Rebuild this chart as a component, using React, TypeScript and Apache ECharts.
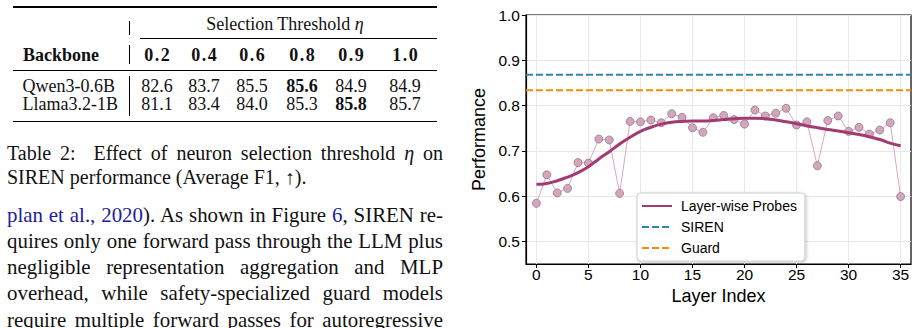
import React, { useEffect, useRef } from "react";
import * as echarts from "echarts";

// ---------- data ----------
const layerIndex = [0, 1, 2, 3, 4, 5, 6, 7, 8, 9, 10, 11, 12, 13, 14, 15, 16, 17, 18, 19, 20, 21, 22, 23, 24, 25, 26, 27, 28, 29, 30, 31, 32, 33, 34, 35];
const probeRaw = [0.584, 0.647, 0.607, 0.617, 0.674, 0.673, 0.726, 0.724, 0.606, 0.765, 0.764, 0.768, 0.762, 0.782, 0.774, 0.751, 0.741, 0.773, 0.778, 0.769, 0.759, 0.790, 0.777, 0.783, 0.794, 0.757, 0.764, 0.667, 0.767, 0.777, 0.743, 0.752, 0.737, 0.746, 0.762, 0.599];
const probeSmooth = [0.626, 0.628, 0.634, 0.642, 0.652, 0.665, 0.682, 0.698, 0.715, 0.730, 0.743, 0.752, 0.759, 0.763, 0.765, 0.766, 0.766, 0.767, 0.769, 0.771, 0.772, 0.772, 0.771, 0.768, 0.764, 0.760, 0.755, 0.751, 0.747, 0.744, 0.740, 0.736, 0.731, 0.725, 0.717, 0.711];
const sirenScore = 0.868;
const guardScore = 0.834;
const xRange = [-1, 36];
const yRange = [0.45, 1.0];
const xTicks = [0, 5, 10, 15, 20, 25, 30, 35];
const yTicks = [0.5, 0.6, 0.7, 0.8, 0.9, 1.0];

const thresholds = ["0.2", "0.4", "0.6", "0.8", "0.9", "1.0"];
const backbones = ["Qwen3-0.6B", "Llama3.2-1B"];
const qwenF1 = [82.6, 83.7, 85.5, 85.6, 84.9, 84.9];
const llamaF1 = [81.1, 83.4, 84.0, 85.3, 85.8, 85.7];

const captionLines = [
  "Table 2:  Effect of neuron selection threshold \u03b7 on",
  "SIREN performance (Average F1, \u2191).",
];
const paragraphLines = [
  "quires only one forward pass through the LLM plus",
  "negligible representation aggregation and MLP",
  "overhead, while safety-specialized guard models",
  "require multiple forward passes for autoregressive",
];

// ---------- styles ----------
const serif = '"Liberation Serif", "Times New Roman", serif';
const sans = '"Liberation Sans", Arial, Helvetica, sans-serif';
const linkBlue = "#1c1c9e";
const colCenters = [157, 204, 252, 302, 351, 405];

function Rule(props: { top: number; left: number; width: number; h: number }) {
  return (
    <div
      style={{
        position: "absolute",
        top: props.top,
        left: props.left,
        width: props.width,
        height: props.h,
        background: "#000",
      }}
    />
  );
}

function VBar(props: { top: number; h: number }) {
  return (
    <div style={{ position: "absolute", left: 128.5, top: props.top, width: 1, height: props.h, background: "#000" }} />
  );
}

function Cell(props: { cx: number; cy: number; bold?: boolean; spacing?: number; children: React.ReactNode }) {
  return (
    <div
      style={{
        position: "absolute",
        left: props.cx - 40,
        width: 80,
        top: props.cy - 11,
        height: 22,
        lineHeight: "22px",
        textAlign: "center",
        fontSize: 18,
        fontWeight: props.bold ? "bold" : "normal",
        letterSpacing: props.spacing ? props.spacing : 0,
        whiteSpace: "nowrap",
      }}
    >
      {props.children}
    </div>
  );
}

function LeftPanel() {
  const rows = [qwenF1, llamaF1];
  const rowY = [85.5, 104];
  return (
    <div style={{ position: "absolute", left: 0, top: 0, width: 460, height: 328, fontFamily: serif, color: "#111" }}>
      <Rule top={6.3} left={13} width={424} h={1.4} />
      <div
        style={{
          position: "absolute",
          left: 185,
          width: 200,
          top: 24 - 11,
          lineHeight: "22px",
          textAlign: "center",
          fontSize: 18,
          whiteSpace: "nowrap",
        }}
      >
        Selection Threshold <i>{"\u03b7"}</i>
      </div>
      <VBar top={21} h={14} />
      <Rule top={38.3} left={140} width={297} h={0.8} />
      <div
        style={{
          position: "absolute",
          left: 23,
          top: 54.5 - 11,
          lineHeight: "22px",
          fontSize: 18,
          fontWeight: "bold",
        }}
      >
        Backbone
      </div>
      <VBar top={45} h={19} />
      {thresholds.map((t, i) => (
        <Cell key={t} cx={colCenters[i] + 0.8} cy={54.5} bold spacing={1.6}>
          {t}
        </Cell>
      ))}
      <Rule top={69.8} left={13} width={424} h={0.8} />
      <VBar top={76} h={40} />
      {backbones.map((b, r) => {
        const vals = rows[r];
        const mx = Math.max(...vals);
        return (
          <React.Fragment key={b}>
            <div
              style={{
                position: "absolute",
                left: 22.5,
                top: rowY[r] - 11,
                lineHeight: "22px",
                fontSize: 18,
                whiteSpace: "nowrap",
              }}
            >
              {b}
            </div>
            {vals.map((v, i) => (
              <Cell key={i} cx={colCenters[i]} cy={rowY[r]} bold={v === mx}>
                {v.toFixed(1)}
              </Cell>
            ))}
          </React.Fragment>
        );
      })}
      <Rule top={121} left={13} width={424} h={1.4} />

      {captionLines.map((ln, i) => (
        <div
          key={i}
          style={{
            position: "absolute",
            left: 7,
            width: 436,
            top: 152.5 + i * 24 - 12,
            lineHeight: "24px",
            fontSize: 20,
            textAlign: i === 0 ? "justify" : "left",
            textAlignLast: i === 0 ? "justify" : "left",
            whiteSpace: "pre-wrap",
          }}
        >
          {i === 0 ? (
            <>
              Table 2:{"  "}Effect of neuron selection threshold <i>{"\u03b7"}</i> on
            </>
          ) : (
            ln
          )}
        </div>
      ))}

      <div
        style={{
          position: "absolute",
          left: 7,
          width: 436,
          top: 214.8 - 13.1,
          lineHeight: "26.2px",
          fontSize: 20.9,
          textAlign: "justify",
          textAlignLast: "justify",
        }}
      >
        <span style={{ color: linkBlue }}>plan et al., 2020</span>). As shown in Figure{" "}
        <span style={{ color: linkBlue }}>6</span>, SIREN re-
      </div>
      {paragraphLines.map((ln, i) => (
        <div
          key={i}
          style={{
            position: "absolute",
            left: 7,
            width: 436,
            top: 214.8 + (i + 1) * 26.25 - 13.1,
            lineHeight: "26.2px",
            fontSize: 20.9,
            textAlign: "justify",
            textAlignLast: "justify",
          }}
        >
          {ln}
        </div>
      ))}
    </div>
  );
}

function Chart() {
  const ref = useRef<HTMLDivElement>(null);
  useEffect(() => {
    if (!ref.current) return;
    const chart = echarts.init(ref.current, null, { renderer: "svg" });
    const tickLabel = { fontSize: 15.5, color: "#000", fontFamily: sans };
    chart.setOption({
      animation: false,
      backgroundColor: "transparent",
      grid: {
        left: 66,
        right: 7,
        top: 15,
        bottom: 64,
        show: true,
        borderColor: "#000",
        borderWidth: 1.2,
        backgroundColor: "transparent",
      },
      legend: {
        data: ["Layer-wise Probes", "SIREN", "Guard"],
        orient: "vertical",
        left: 177,
        top: 193,
        itemWidth: 30,
        itemHeight: 13,
        itemGap: 7,
        padding: [6, 8, 6, 4],
        backgroundColor: "#ffffff",
        borderColor: "#cfcfcf",
        borderWidth: 1,
        borderRadius: 4,
        shadowColor: "rgba(0,0,0,0.25)",
        shadowBlur: 3,
        shadowOffsetX: 1,
        shadowOffsetY: 1,
        itemStyle: { opacity: 0 },
        textStyle: { fontSize: 14, color: "#000", fontFamily: sans, padding: [0, 0, 0, 4] },
      },
      xAxis: {
        type: "value",
        min: xRange[0],
        max: xRange[1],
        name: "Layer Index",
        nameLocation: "middle",
        nameGap: 16,
        nameTextStyle: { fontSize: 18, color: "#000", fontFamily: sans },
        axisLine: { show: true, onZero: false, lineStyle: { color: "#000", width: 1.2 } },
        axisTick: { show: true, length: 4, customValues: xTicks, lineStyle: { color: "#000", width: 1 } },
        axisLabel: { ...tickLabel, margin: 2, customValues: xTicks },
        splitLine: { show: true, lineStyle: { color: "#e8e8e8", width: 1 } },
      },
      yAxis: {
        type: "value",
        min: yRange[0],
        max: yRange[1],
        name: "Performance",
        nameLocation: "middle",
        nameGap: 21,
        nameTextStyle: { fontSize: 18, color: "#000", fontFamily: sans },
        axisLine: { show: true, onZero: false, lineStyle: { color: "#000", width: 1.2 } },
        axisTick: { show: true, length: 4, customValues: yTicks, lineStyle: { color: "#000", width: 1 } },
        axisLabel: { ...tickLabel, margin: 6, customValues: yTicks, formatter: (v: number) => v.toFixed(1) },
        splitLine: { show: true, lineStyle: { color: "#e8e8e8", width: 1 } },
      },
      series: [
        {
          name: "Per-layer probe",
          type: "line",
          data: layerIndex.map((x, i) => [x, probeRaw[i]]),
          symbol: "circle",
          symbolSize: 8,
          itemStyle: { color: "#d3a6bd", borderColor: "#8f7a86", borderWidth: 0.8 },
          lineStyle: { color: "#daa6c2", width: 1 },
          z: 2,
        },
        {
          name: "Layer-wise Probes",
          type: "line",
          data: layerIndex.map((x, i) => [x, probeSmooth[i]]),
          smooth: true,
          symbol: "none",
          lineStyle: { color: "#A23B72", width: 3 },
          itemStyle: { color: "#A23B72" },
          z: 3,
        },
        {
          name: "SIREN",
          type: "line",
          data: [
            [xRange[0], sirenScore],
            [xRange[1], sirenScore],
          ],
          symbol: "none",
          lineStyle: { color: "#2E86AB", width: 2, type: [7, 3] },
          itemStyle: { color: "#2E86AB" },
          z: 2,
        },
        {
          name: "Guard",
          type: "line",
          data: [
            [xRange[0], guardScore],
            [xRange[1], guardScore],
          ],
          symbol: "none",
          lineStyle: { color: "#F18F01", width: 2, type: [7, 3] },
          itemStyle: { color: "#F18F01" },
          z: 2,
        },
      ],
    });
    return () => chart.dispose();
  }, []);
  return <div ref={ref} style={{ position: "absolute", left: 460, top: 0, width: 458, height: 328 }} />;
}

export default function App() {
  return (
    <div
      style={{
        position: "fixed",
        left: 0,
        top: 0,
        width: 918,
        height: 328,
        overflow: "hidden",
        background: "#fff",
      }}
    >
      <LeftPanel />
      <Chart />
    </div>
  );
}
